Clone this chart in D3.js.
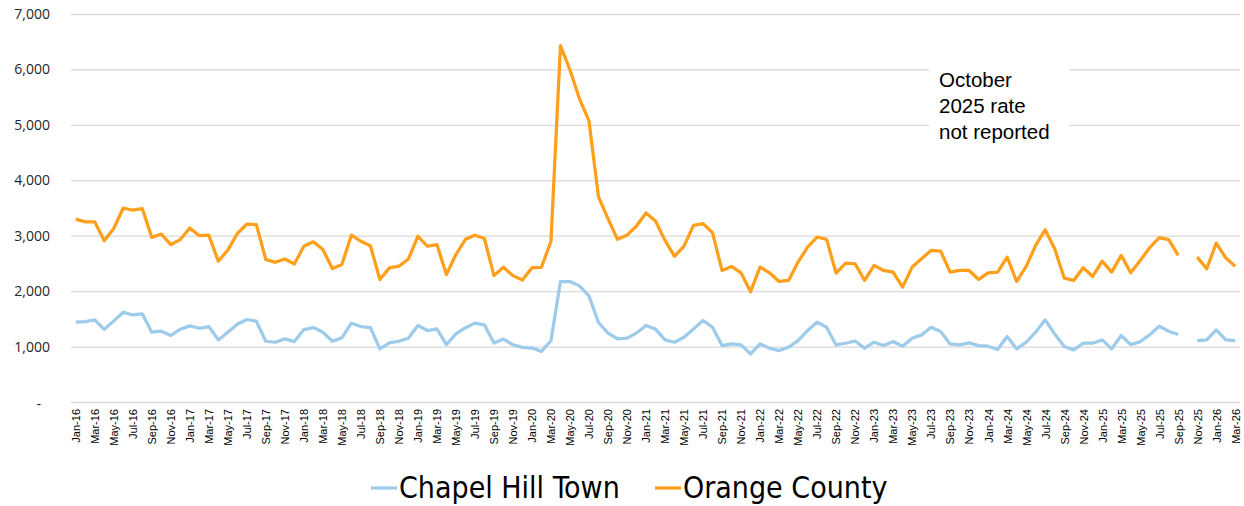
<!DOCTYPE html>
<html>
<head>
<meta charset="utf-8">
<script src="https://cdn.jsdelivr.net/npm/d3@7"></script>
<style>
  html, body { margin: 0; padding: 0; background: #fff; }
  svg { display: block; }
</style>
</head>
<body>
<svg id="chart" width="1244" height="506"></svg>
<script>
// ---- Data ----
const months = [
  "Jan-16","Feb-16","Mar-16","Apr-16","May-16","Jun-16","Jul-16","Aug-16","Sep-16","Oct-16","Nov-16","Dec-16",
  "Jan-17","Feb-17","Mar-17","Apr-17","May-17","Jun-17","Jul-17","Aug-17","Sep-17","Oct-17","Nov-17","Dec-17",
  "Jan-18","Feb-18","Mar-18","Apr-18","May-18","Jun-18","Jul-18","Aug-18","Sep-18","Oct-18","Nov-18","Dec-18",
  "Jan-19","Feb-19","Mar-19","Apr-19","May-19","Jun-19","Jul-19","Aug-19","Sep-19","Oct-19","Nov-19","Dec-19",
  "Jan-20","Feb-20","Mar-20","Apr-20","May-20","Jun-20","Jul-20","Aug-20","Sep-20","Oct-20","Nov-20","Dec-20",
  "Jan-21","Feb-21","Mar-21","Apr-21","May-21","Jun-21","Jul-21","Aug-21","Sep-21","Oct-21","Nov-21","Dec-21",
  "Jan-22","Feb-22","Mar-22","Apr-22","May-22","Jun-22","Jul-22","Aug-22","Sep-22","Oct-22","Nov-22","Dec-22",
  "Jan-23","Feb-23","Mar-23","Apr-23","May-23","Jun-23","Jul-23","Aug-23","Sep-23","Oct-23","Nov-23","Dec-23",
  "Jan-24","Feb-24","Mar-24","Apr-24","May-24","Jun-24","Jul-24","Aug-24","Sep-24","Oct-24","Nov-24","Dec-24",
  "Jan-25","Feb-25","Mar-25","Apr-25","May-25","Jun-25","Jul-25","Aug-25","Sep-25","Oct-25","Nov-25","Dec-25",
  "Jan-26","Feb-26","Mar-26"
];

const chapelHillTown = [
  1440,1450,1482,1310,1464,1620,1570,1590,1260,1277,1200,1313,
  1373,1330,1361,1120,1259,1404,1488,1458,1096,1078,1139,1090,
  1307,1343,1259,1096,1157,1422,1361,1343,960,1066,1096,1151,
  1380,1289,1319,1036,1229,1340,1423,1393,1063,1135,1033,985,
  973,913,1105,2173,2173,2095,1915,1435,1243,1141,1153,1243,
  1381,1315,1120,1078,1169,1319,1470,1349,1018,1048,1030,867,
  1048,970,928,988,1108,1289,1440,1349,1030,1060,1100,970,
  1078,1018,1090,1006,1151,1211,1349,1271,1048,1030,1066,1018,
  1006,946,1181,958,1078,1259,1482,1229,1000,940,1060,1060,
  1120,958,1199,1036,1090,1211,1367,1277,1217,null,1108,1120,
  1301,1120,1108
];

const orangeCounty = [
  3300,3250,3250,2910,3130,3500,3460,3490,2970,3030,2840,2930,
  3140,3000,3010,2540,2740,3040,3210,3200,2570,2520,2580,2490,
  2810,2890,2750,2410,2480,3010,2900,2820,2210,2420,2450,2580,
  2990,2810,2840,2300,2660,2935,3010,2950,2280,2430,2280,2200,
  2420,2430,2900,6430,5990,5470,5070,3700,3310,2935,3010,3175,
  3410,3265,2916,2627,2813,3187,3217,3054,2373,2446,2331,1990,
  2434,2331,2175,2193,2524,2795,2976,2934,2325,2506,2494,2193,
  2464,2373,2343,2072,2434,2584,2735,2723,2343,2373,2373,2211,
  2331,2343,2614,2175,2446,2825,3108,2765,2235,2193,2422,2265,
  2542,2343,2645,2331,2554,2783,2964,2928,2645,null,2614,2404,
  2867,2602,2446
];

const yTicks = [0,1000,2000,3000,4000,5000,6000,7000];
const xTickLabels = months.filter((m, i) => i % 2 === 0);
const seriesNames = ["Chapel Hill Town", "Orange County"];
const noteLines = ["October", "2025 rate", "not reported"];

// ---- Layout ----
const svg = d3.select("#chart");
const plotL = 71, plotR = 1240, plotT = 14, plotB = 402;
const colors = { blue: "#9DCBEB", orange: "#FF9F1C", grid: "#D9D9D9" };

const x = d3.scalePoint().domain(months).range([plotL, plotR]).padding(0.5);
const y = d3.scaleLinear().domain([0, 7000]).range([plotB, plotT]);

// gridlines + y labels
const yAxis = d3.axisLeft(y)
  .tickValues(yTicks)
  .tickSize(-(plotR - plotL))
  .tickPadding(21)
  .tickFormat(d => d === 0 ? "-" : d3.format(",")(d));

const gy = svg.append("g")
  .attr("transform", `translate(${plotL},0)`)
  .call(yAxis);
gy.select(".domain").remove();
gy.selectAll(".tick line").attr("stroke", colors.grid).attr("stroke-width", 1.3);
gy.selectAll(".tick text")
  .attr("fill", "#262626")
  .style("font-family", "'Open Sans', 'Noto Sans', sans-serif")
  .style("font-size", "14px");
gy.selectAll(".tick").filter(d => d === 0).select("text").attr("x", -30).attr("dy", "0.45em");

// x axis labels
const xAxis = d3.axisBottom(x)
  .tickValues(xTickLabels)
  .tickSize(0)
  .tickPadding(0);
const gx = svg.append("g")
  .attr("transform", `translate(0,${plotB})`)
  .call(xAxis);
gx.select(".domain").remove();
gx.selectAll(".tick text")
  .attr("fill", "#000")
  .style("font-family", "'Liberation Sans', Arial, sans-serif")
  .style("font-size", "11px")
  .attr("text-anchor", "end")
  .attr("transform", "rotate(-90)")
  .attr("x", -7)
  .attr("y", 0)
  .attr("dy", "0.35em");

// lines
const line = d3.line()
  .defined(d => d.v != null)
  .x(d => x(d.m))
  .y(d => y(d.v));

const blueData = months.map((m, i) => ({ m, v: chapelHillTown[i] }));
const orangeData = months.map((m, i) => ({ m, v: orangeCounty[i] }));

svg.append("path").datum(blueData)
  .attr("d", line)
  .attr("fill", "none")
  .attr("stroke", colors.blue)
  .attr("stroke-width", 3.25)
  .attr("stroke-linejoin", "round");

svg.append("path").datum(orangeData)
  .attr("d", line)
  .attr("fill", "none")
  .attr("stroke", colors.orange)
  .attr("stroke-width", 3.25)
  .attr("stroke-linejoin", "round");

// annotation box
svg.append("rect")
  .attr("x", 929).attr("y", 56).attr("width", 141).attr("height", 92)
  .attr("fill", "#fff");
const note = svg.append("text")
  .attr("x", 939)
  .attr("y", 87)
  .style("font-family", "'Liberation Sans', Arial, sans-serif")
  .style("font-size", "20.5px")
  .attr("fill", "#000");
noteLines.forEach((t, i) => {
  note.append("tspan").attr("x", 939).attr("y", 87 + i * 26).text(t);
});

// legend
const legend = [
  { name: seriesNames[0], color: colors.blue, x0: 371 },
  { name: seriesNames[1], color: colors.orange, x0: 655 }
];
legend.forEach(l => {
  svg.append("line")
    .attr("x1", l.x0).attr("x2", l.x0 + 26)
    .attr("y1", 488).attr("y2", 488)
    .attr("stroke", l.color).attr("stroke-width", 3.25);
  svg.append("text")
    .attr("x", l.x0 + 28)
    .attr("y", 498)
    .style("font-family", "'Liberation Sans Narrow', 'DejaVu Sans Condensed', sans-serif")
    .style("font-size", "30px")
    .attr("fill", "#000")
    .text(l.name);
});
</script>
</body>
</html>
